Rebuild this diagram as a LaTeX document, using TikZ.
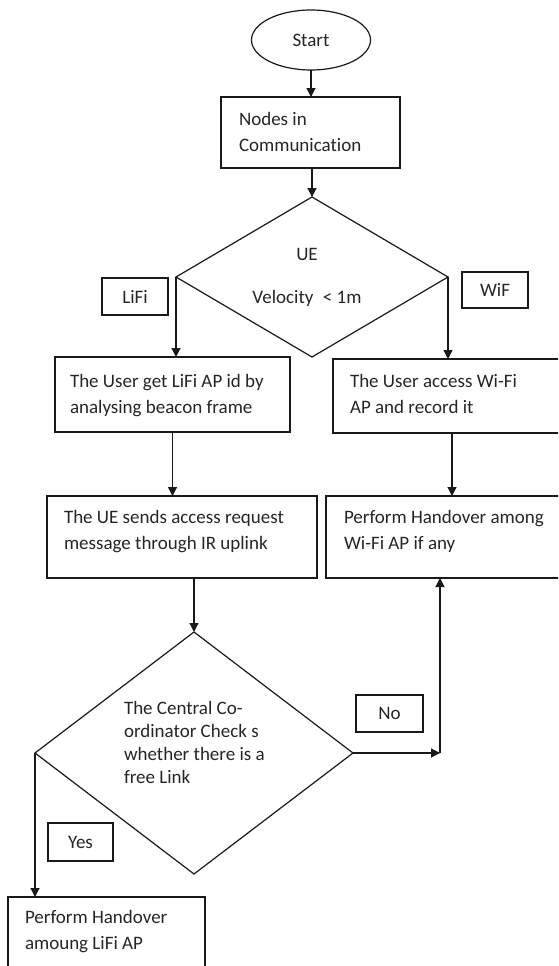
\documentclass[tikz,border=0pt]{standalone}
\usepackage{fontspec}
\setmainfont{Carlito}[Ligatures=NoCommon]
\usetikzlibrary{arrows.meta,shapes.geometric,calc}
\newcommand\txtfont{\fontsize{19}{26}\selectfont}
\newcommand\txtfontb{\fontsize{19}{23}\selectfont}
\begin{document}
\begin{tikzpicture}[x=1pt,y=-1pt,
  every node/.style={inner sep=0pt, outer sep=0pt},
  box/.style={draw=black!90, rectangle, line width=1.2pt, font=\txtfont, text=black!85},
  dec/.style={draw=black!90, diamond, line width=1.2pt},
  lbl/.style={anchor=base west, font=\txtfont, text=black!85},
  lblb/.style={anchor=base west, font=\txtfontb, text=black!85},
  arr/.style={draw=black!90, line width=1.2pt, -{Triangle[length=9pt,width=9pt]}},
]
\useasboundingbox (0,0) rectangle (558,966);
\clip (0,0) rectangle (558,966);
\fill[white] (0,0) rectangle (558,966);

% nodes
\node[draw=black!90, line width=1.2pt, ellipse, minimum width=119pt, minimum height=60pt, font=\txtfont, text=black!85] (start) at (311,40) {Start};
\node[box, minimum width=179pt, minimum height=71pt] (n1) at (310.5,132.5) {};
\node[lbl] (n1t) at (239,125) {\begin{tabular}[t]{@{}l@{}}Nodes in\\Communication\end{tabular}};

\node[dec, minimum width=272pt, minimum height=160pt] (d1) at (312,277) {};
\node[lbl, anchor=base] (d1a) at (307,260) {UE};
\node[lbl, anchor=base] (d1b) at (307,303) {Velocity\enspace< 1m};

\node[box, minimum width=66pt, minimum height=37pt] (lifi) at (135,296.5) {LiFi};
\node[box, minimum width=66pt, minimum height=36pt] (wif) at (495,290) {WiF};

\node[box, minimum width=235pt, minimum height=75pt] (a1) at (172.5,394.5) {};
\node[lbl] (a1t) at (70,387) {\begin{tabular}[t]{@{}l@{}}The User get LiFi AP id by\\analysing beacon frame\end{tabular}};

\node[box, minimum width=237pt, minimum height=74pt] (b1) at (451.5,396) {};
\node[lbl] (b1t) at (350,387) {\begin{tabular}[t]{@{}l@{}}The User access Wi-Fi\\AP and record it\end{tabular}};

\node[box, minimum width=270pt, minimum height=82pt] (a2) at (182,537) {};
\node[lbl] (a2t) at (64,523) {\begin{tabular}[t]{@{}l@{}}The UE sends access request\\message through IR uplink\end{tabular}};

\node[box, minimum width=244pt, minimum height=82pt] (b2) at (448,537) {};
\node[lbl] (b2t) at (344,523) {\begin{tabular}[t]{@{}l@{}}Perform Handover among\\Wi-Fi AP if any\end{tabular}};

\node[dec, minimum width=318pt, minimum height=242pt] (d2) at (194,753) {};
\node[lblb] (d2t) at (124,714) {\begin{tabular}[t]{@{}l@{}}The Central Co-\\ordinator Check s\\whether there is a\\free Link\end{tabular}};

\node[box, minimum width=67pt, minimum height=37pt] (no) at (389.5,713.5) {No};
\node[box, minimum width=65pt, minimum height=38pt] (yes) at (80.5,842) {Yes};

\node[box, minimum width=197pt, minimum height=103pt] (bot) at (106.5,948.5) {};
\node[lbl] (bott) at (25,923) {\begin{tabular}[t]{@{}l@{}}Perform Handover\\amoung LiFi AP\end{tabular}};

% connectors
\draw[arr] (start.south) -- (start.south |- n1.north);
\draw[arr] (d1.north |- n1.south) -- (d1.north);
\draw[arr] (d1.west) -- (d1.west |- a1.north);
\draw[arr] (d1.east) -- (d1.east |- b1.north);
\draw[arr] (a1.south) -- (a1.south |- a2.north);
\coordinate (b1out) at ($(b1.south west)+(119,0)$);
\draw[arr] (b1out) -- (b1out |- b2.north);
\draw[arr] (d2.north |- a2.south) -- (d2.north);
\coordinate (nocorner) at ($(d2.east)+(87,0)$);
\draw[arr] (d2.east) -- (nocorner);
\draw[arr] (nocorner) -- (nocorner |- b2.south);
\draw[arr] (d2.west) -- (d2.west |- bot.north);
\end{tikzpicture}
\end{document}
